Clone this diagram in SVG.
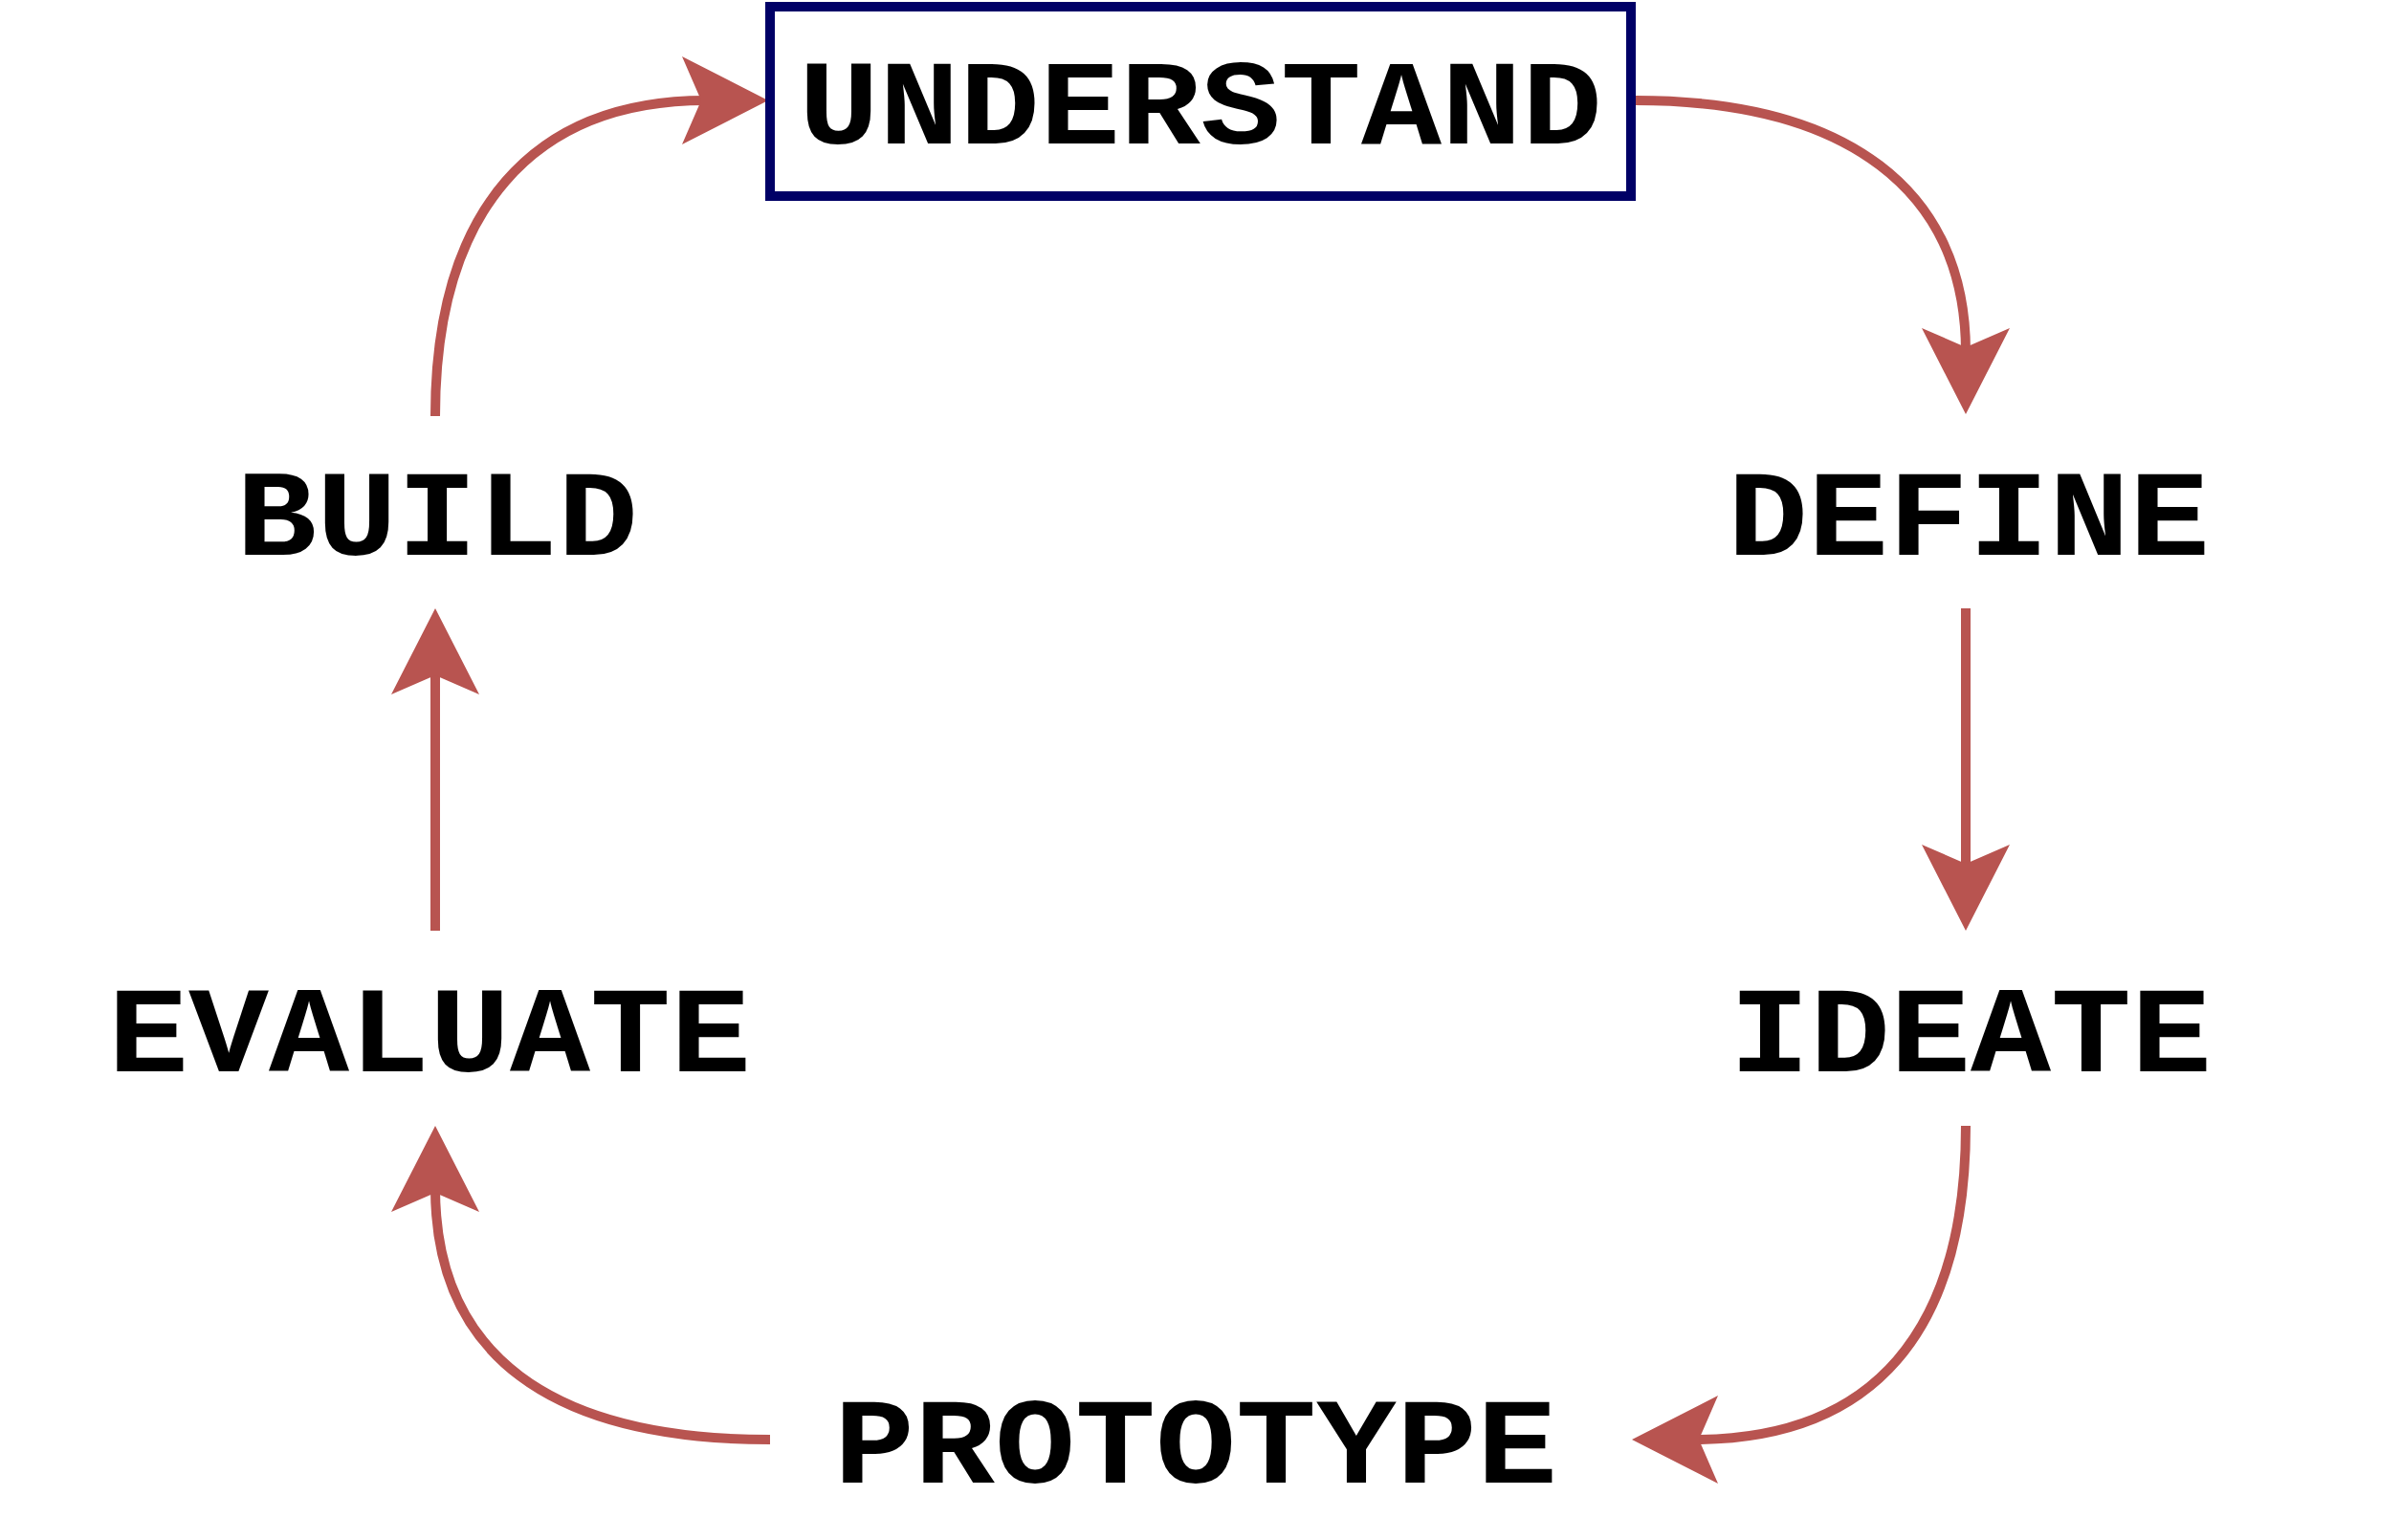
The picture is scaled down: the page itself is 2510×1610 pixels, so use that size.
<svg xmlns="http://www.w3.org/2000/svg" width="2510" height="1610" viewBox="0 0 2510 1610">
  <style>
    .label { font-family: "Liberation Mono", "Courier New", monospace; font-weight: bold; font-size: 140px; fill: #000000; text-anchor: middle; }
    .box { fill: #ffffff; stroke: #000066; stroke-width: 10; }
    .flow { fill: none; stroke: #b85450; stroke-width: 10; marker-end: url(#head); }
  </style>
  <defs>
    <!-- notched triangular arrowhead; the line ends just behind the notch -->
    <marker id="head" markerUnits="userSpaceOnUse" viewBox="0 0 90 92" markerWidth="90" markerHeight="92" refX="25" refY="46" orient="auto" overflow="visible">
      <path d="M0,0 L90,46 L0,92 L20,46 Z" fill="#b85450"/>
    </marker>
  </defs>
  <rect width="2510" height="1610" fill="#ffffff"/>

  <g id="connectors">
    <path id="understand-define" class="flow" d="M1710,105 C1930,105 2055,198 2055,368"/>
    <path id="define-ideate" class="flow" d="M2055,636 L2055,908"/>
    <path id="ideate-prototype" class="flow" d="M2055,1177 C2055,1393 1958,1505 1771,1505"/>
    <path id="prototype-evaluate" class="flow" d="M805,1505 C575,1505 455,1416 455,1242"/>
    <path id="evaluate-build" class="flow" d="M455,973 L455,701"/>
    <path id="build-understand" class="flow" d="M455,435 C455,220 557,105 738,105"/>
  </g>

  <g id="node-understand">
    <rect class="box" x="805" y="7" width="900" height="198"/>
    <text class="label" transform="translate(1255,150) scale(1,0.9)">UNDERSTAND</text>
  </g>
  <g id="node-define">
    <text class="label" transform="translate(2058,580) scale(1,0.92)">DEFINE</text>
  </g>
  <g id="node-ideate">
    <text class="label" transform="translate(2060,1120) scale(1,0.92)">IDEATE</text>
  </g>
  <g id="node-prototype">
    <text class="label" transform="translate(1250,1550) scale(1,0.92)">PROTOTYPE</text>
  </g>
  <g id="node-evaluate">
    <text class="label" transform="translate(449,1120) scale(1,0.92)">EVALUATE</text>
  </g>
  <g id="node-build">
    <text class="label" transform="translate(457,580) scale(1,0.92)">BUILD</text>
  </g>
</svg>
